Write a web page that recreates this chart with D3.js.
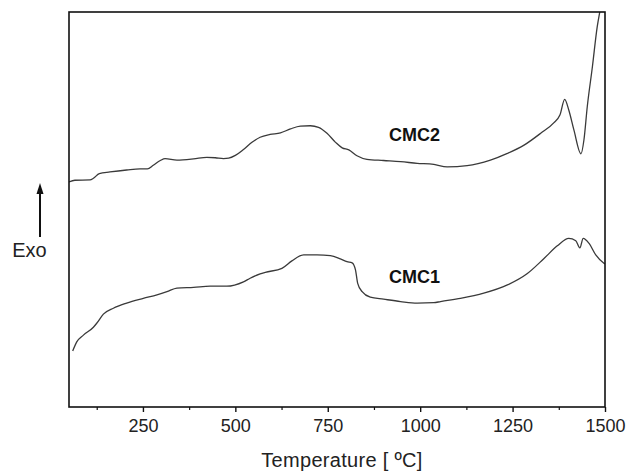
<!DOCTYPE html>
<html>
<head>
<meta charset="utf-8">
<script src="https://cdn.jsdelivr.net/npm/d3@7/dist/d3.min.js"></script>
<style>
  html, body { margin: 0; padding: 0; background: #fff; }
  svg { display: block; }
  text { font-family: "Liberation Sans", Arial, Helvetica, sans-serif; }
</style>
</head>
<body>
<svg id="chart" width="629" height="472"></svg>
<script>
// Temperature (°C) samples
const cmc2Temp = [50, 66, 107, 116, 132, 161, 206, 242, 262, 278, 297, 310, 342, 387, 423, 446, 468, 482, 500, 522, 545, 567, 594, 622, 649, 676, 703, 725, 748, 771, 789, 807, 829, 856, 901, 947, 992, 1037, 1073, 1127, 1190, 1236, 1281, 1326, 1362, 1378, 1391, 1402, 1416, 1435, 1443, 1452, 1466, 1479, 1486, 1500];
// DTA signal (arbitrary units, exo up)
const cmc2Signal = [57.0, 57.4, 57.5, 57.9, 59.1, 59.5, 60.0, 60.3, 60.3, 61.2, 62.4, 62.9, 62.5, 62.8, 63.2, 63.1, 62.9, 63.0, 63.7, 65.2, 67.0, 68.3, 69.0, 69.4, 70.4, 71.1, 71.2, 70.8, 69.3, 67.0, 65.6, 65.1, 63.6, 62.7, 62.4, 62.1, 61.7, 61.4, 60.8, 61.1, 62.5, 64.2, 66.3, 69.3, 72.0, 73.9, 77.9, 75.2, 70.1, 64.1, 67.6, 76.0, 86.2, 96.3, 100.1, 106.3];

const cmc1Temp = [60, 71, 89, 116, 125, 143, 170, 206, 251, 288, 315, 342, 387, 432, 477, 522, 540, 567, 581, 626, 653, 685, 721, 757, 784, 802, 816, 825, 831, 843, 865, 901, 947, 992, 1037, 1055, 1109, 1172, 1236, 1290, 1335, 1371, 1402, 1421, 1432, 1441, 1457, 1475, 1497, 1500];
const cmc1Signal = [14.2, 16.5, 18.2, 20.2, 21.2, 23.5, 25.0, 26.3, 27.5, 28.4, 29.2, 30.1, 30.3, 30.6, 30.6, 31.7, 32.6, 33.7, 34.1, 35.1, 37.0, 38.5, 38.5, 38.3, 37.5, 36.8, 36.5, 34.7, 31.3, 29.2, 27.8, 27.3, 26.7, 26.3, 26.4, 26.7, 27.5, 28.8, 30.9, 33.8, 37.6, 40.8, 42.7, 42.1, 40.3, 42.7, 41.4, 38.5, 36.4, 36.2];

const xTicks = [250, 500, 750, 1000, 1250, 1500];
const xMinorTicks = [125, 375, 625, 875, 1125, 1375];
const seriesLabels = ["CMC2", "CMC1"];
const xTitle = "Temperature [ ºC]";
const yTitle = "Exo";

const svg = d3.select("#chart");
const m = { left: 69, top: 12, right: 605, bottom: 407 };

const x = d3.scaleLinear().domain([50, 1500]).range([m.left, m.right]);
const y = d3.scaleLinear().domain([0, 100]).range([m.bottom, m.top]);

svg.append("defs").append("clipPath").attr("id", "clip")
  .append("rect").attr("x", m.left).attr("y", m.top)
  .attr("width", m.right - m.left).attr("height", m.bottom - m.top);

const line = d3.line().x(d => x(d[0])).y(d => y(d[1])).curve(d3.curveMonotoneX);

const s2 = cmc2Temp.map((t, i) => [t, cmc2Signal[i]]);
const s1 = cmc1Temp.map((t, i) => [t, cmc1Signal[i]]);

const g = svg.append("g").attr("clip-path", "url(#clip)");
[s2, s1].forEach(s => {
  g.append("path").datum(s).attr("d", line)
    .attr("fill", "none").attr("stroke", "#3a3a3a").attr("stroke-width", 1.3);
});

// frame
svg.append("rect").attr("x", m.left).attr("y", m.top)
  .attr("width", m.right - m.left).attr("height", m.bottom - m.top)
  .attr("fill", "none").attr("stroke", "#111").attr("stroke-width", 1.6);

// x axis
const xAxis = d3.axisBottom(x).tickValues(xTicks).tickFormat(d3.format("d"))
  .tickSize(5).tickSizeOuter(0).tickPadding(7);
const ax = svg.append("g").attr("transform", `translate(0,${m.bottom})`).call(xAxis);
ax.select(".domain").remove();
ax.selectAll(".tick line").attr("stroke", "#111").attr("stroke-width", 1.4);
ax.selectAll(".tick text").attr("font-size", 18).attr("fill", "#222")
  .style("font-family", "'Liberation Sans', Arial, sans-serif");

const mx = d3.axisBottom(x).tickValues(xMinorTicks).tickSize(3).tickFormat("");
const amx = svg.append("g").attr("transform", `translate(0,${m.bottom})`).call(mx);
amx.select(".domain").remove();
amx.selectAll(".tick line").attr("stroke", "#111").attr("stroke-width", 1.2);

svg.append("text").attr("x", 342).attr("y", 467)
  .attr("text-anchor", "middle").attr("font-size", 20).attr("letter-spacing", 0.3)
  .attr("fill", "#222").text(xTitle);

// Exo arrow
svg.append("line").attr("x1", 40).attr("x2", 40).attr("y1", 237).attr("y2", 192)
  .attr("stroke", "#111").attr("stroke-width", 2);
svg.append("path").attr("d", "M40,183 L36.5,194 L43.5,194 Z").attr("fill", "#111");
svg.append("text").attr("x", 29.5).attr("y", 257).attr("text-anchor", "middle")
  .attr("font-size", 20).attr("fill", "#222").text(yTitle);

// series labels
svg.append("text").attr("x", 389).attr("y", 141).attr("font-size", 18)
  .attr("font-weight", "bold").attr("fill", "#111").text(seriesLabels[0]);
svg.append("text").attr("x", 389).attr("y", 283).attr("font-size", 18)
  .attr("font-weight", "bold").attr("fill", "#111").text(seriesLabels[1]);
</script>
</body>
</html>
